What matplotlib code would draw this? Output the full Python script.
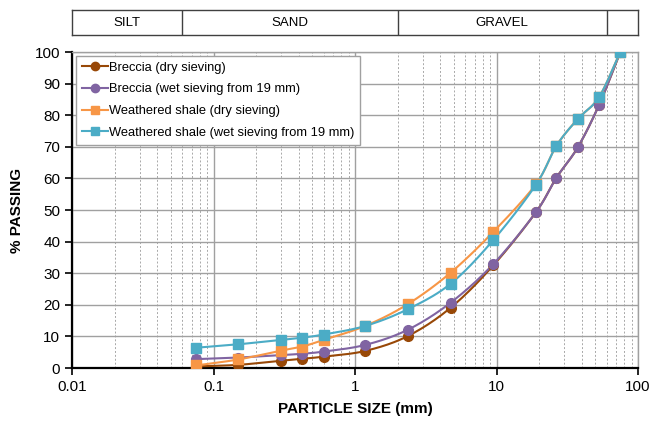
import numpy as np
import matplotlib
matplotlib.use("Agg")
import matplotlib.pyplot as plt
from matplotlib.ticker import LogLocator, FixedLocator, NullFormatter, FixedFormatter

plt.rcParams['font.family'] = ['Liberation Sans', 'DejaVu Sans']

sizes = [0.075, 0.15, 0.3, 0.425, 0.6, 1.18, 2.36, 4.75, 9.5, 19, 26.5, 37.5, 53, 75]
breccia_dry = [0.5, 1.0, 2.3, 2.9, 3.6, 5.4, 10.1, 19.1, 32.5, 49.3, 60.2, 69.8, 83.2, 100]
breccia_wet = [2.8, 3.3, 4.1, 4.5, 5.2, 7.3, 12.1, 20.7, 32.9, 49.3, 60.2, 69.8, 83.2, 100]
shale_dry = [0.8, 2.7, 5.5, 6.8, 8.9, 13.3, 20.2, 30.2, 43.1, 58.2, 70.3, 78.8, 85.7, 100]
shale_wet = [6.4, 7.5, 8.9, 9.6, 10.6, 13.3, 18.6, 26.7, 40.5, 58.0, 70.3, 78.8, 85.7, 100]

series_names = ["Breccia (dry sieving)", "Breccia (wet sieving from 19 mm)",
                "Weathered shale (dry sieving)", "Weathered shale (wet sieving from 19 mm)"]
series_vals = [breccia_dry, breccia_wet, shale_dry, shale_wet]
colors = ["#984807", "#8064A2", "#F79646", "#4BACC6"]
markers = ["o", "o", "s", "s"]

bands = ["SILT", "SAND", "GRAVEL", ""]
band_edges = [0.01, 0.06, 2, 60, 100]

xticks = [0.01, 0.1, 1, 10, 100]
xtick_labels = ["0.01", "0.1", "1", "10", "100"]


def smooth(x, y, n=20):
    # Catmull-Rom in (log10 x, y)
    lx = np.log10(np.asarray(x, float))
    yy = np.asarray(y, float)
    P = np.column_stack([lx, yy])
    P = np.vstack([P[0] - (P[1] - P[0]), P, P[-1] + (P[-1] - P[-2])])
    out = []
    for i in range(1, len(P) - 2):
        p0, p1, p2, p3 = P[i - 1], P[i], P[i + 1], P[i + 2]
        t = np.linspace(0, 1, n)[:, None]
        seg = 0.5 * ((2 * p1) + (-p0 + p2) * t + (2 * p0 - 5 * p1 + 4 * p2 - p3) * t ** 2
                     + (-p0 + 3 * p1 - 3 * p2 + p3) * t ** 3)
        out.append(seg)
    out = np.vstack(out)
    return 10 ** out[:, 0], out[:, 1]


fig = plt.figure(figsize=(6.52, 4.21), dpi=100)
ax = fig.add_axes([72 / 652, 1 - 368 / 421, (638 - 72) / 652, (368 - 52) / 421])

ax.set_xscale('log')
ax.set_xlim(0.01, 100)
ax.set_ylim(0, 100)

ax.xaxis.set_major_locator(FixedLocator(xticks))
ax.xaxis.set_major_formatter(FixedFormatter(xtick_labels))
ax.xaxis.set_minor_locator(LogLocator(base=10, subs=np.arange(2, 10), numticks=20))
ax.xaxis.set_minor_formatter(NullFormatter())
ax.set_yticks(np.arange(0, 101, 10))

ax.grid(which='major', axis='both', color='#a0a0a0', linewidth=1.0, linestyle='-')
ax.grid(which='minor', axis='x', color='#a8a8a8', linewidth=0.7, linestyle=(0, (2, 2)))
ax.set_axisbelow(True)

for name, vals, c, m in zip(series_names, series_vals, colors, markers):
    sx, sy = smooth(sizes, vals)
    ax.plot(sx, sy, color=c, linewidth=1.5, zorder=3)
    ax.plot(sizes, vals, linestyle='none', marker=m, markersize=7, color=c, zorder=4)
    ax.plot([], [], color=c, linewidth=1.5, marker=m, markersize=6, label=name)

for s in ['top', 'right']:
    ax.spines[s].set_color('#a0a0a0')
    ax.spines[s].set_linewidth(1.0)
for s in ['left', 'bottom']:
    ax.spines[s].set_color('black')
    ax.spines[s].set_linewidth(1.6)

ax.tick_params(axis='both', which='major', direction='out', length=5, width=1.2,
               labelsize=11, colors='black')
ax.tick_params(axis='x', which='minor', length=0)

ax.set_xlabel("PARTICLE SIZE (mm)", fontsize=11, fontweight='bold', labelpad=6)
ax.set_ylabel("% PASSING", fontsize=11, fontweight='bold', labelpad=8)

leg = ax.legend(loc='upper left', fontsize=9.3, frameon=True, fancybox=False,
                edgecolor='#a0a0a0', framealpha=1, borderpad=0.45, labelspacing=0.75,
                handlelength=2.0, handletextpad=0.1, borderaxespad=0.3)
leg.get_frame().set_linewidth(1.0)

# top band
bax = fig.add_axes([72 / 652, 1 - 35 / 421, (638 - 72) / 652, 25 / 421])
bax.set_xscale('log')
bax.set_xlim(0.01, 100)
bax.set_ylim(0, 1)
bax.set_xticks([])
bax.set_yticks([])
bax.minorticks_off()
for s in bax.spines.values():
    s.set_color('#404040')
    s.set_linewidth(1.0)
for e in band_edges[1:-1]:
    bax.axvline(e, color='#404040', linewidth=1.0)
for i, lab in enumerate(bands):
    lo, hi = band_edges[i], band_edges[i + 1]
    bax.text(np.sqrt(lo * hi), 0.5, lab, ha='center', va='center', fontsize=9.5)

fig.savefig("out.png", dpi=100)
